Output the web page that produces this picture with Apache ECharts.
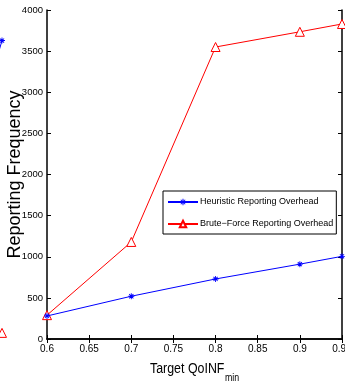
<!DOCTYPE html>
<html>
<head>
<meta charset="utf-8">
<style>html,body{margin:0;padding:0;background:#fff;}#c{width:345px;height:383px;}</style>
<script src="https://cdn.jsdelivr.net/npm/echarts@6/dist/echarts.min.js"></script>
</head>
<body>
<div id="c"></div>
<script>
// ---- data ----
const xValues = [0.6, 0.7, 0.8, 0.9, 0.95];
const heuristic = [280, 520, 730, 910, 1005];
const bruteForce = [290, 1180, 3550, 3735, 3830];
const seriesNames = ['Heuristic Reporting Overhead', 'Brute\u2212Force Reporting Overhead'];
const xTicks = [0.6, 0.65, 0.7, 0.75, 0.8, 0.85, 0.9, 0.95];
const yTicks = [0, 500, 1000, 1500, 2000, 2500, 3000, 3500, 4000];
// clipped neighbour panel on the far left (only its right edge is visible)
const leftPanelX = [0.9, 1.0];
const leftPanelBlue = [5.6, 6.35];
const leftPanelRed = [null, 0.13];

const FONT = '"Liberation Sans", Arial, sans-serif';
const STAR = 'path://M8.5 0 H11.5 V20 H8.5 Z M0 8.5 H20 V11.5 H0 Z M2 4.1 L4.1 2 L18 15.9 L15.9 18 Z M15.9 2 L18 4.1 L4.1 18 L2 15.9 Z';

const axisLine = {show: true, lineStyle: {color: '#000', width: 1.5}};
const tick = {show: true, inside: true, length: 4, lineStyle: {color: '#000', width: 1}};

const chart = echarts.init(document.getElementById('c'), null, {renderer: 'canvas'});
const pair = (xs, ys) => xs.map((x, i) => [x, ys[i]]);

chart.setOption({
  animation: false,
  backgroundColor: '#fff',
  grid: [
    {left: 47, right: 3, top: 10, bottom: 44, containLabel: false, outerBoundsMode: 'none'},
    {left: -100, right: 343, top: 10, bottom: 44, containLabel: false, outerBoundsMode: 'none'}
  ],
  xAxis: [
    {type: 'value', gridIndex: 0, position: 'bottom', min: xTicks[0], max: xTicks[xTicks.length - 1], interval: 0.05,
     axisLine: axisLine, axisTick: tick, splitLine: {show: false},
     axisLabel: {color: '#000', fontFamily: FONT, fontSize: 10, margin: 5,
       formatter: v => String(+v.toFixed(2)), showMaxLabel: true, showMinLabel: true, hideOverlap: false}},
    {type: 'value', gridIndex: 0, position: 'top', min: xTicks[0], max: xTicks[xTicks.length - 1], interval: 0.05,
     axisLine: axisLine, axisTick: tick, splitLine: {show: false}, axisLabel: {show: false}},
    {type: 'value', gridIndex: 1, min: 0, max: 1, show: false}
  ],
  yAxis: [
    {type: 'value', gridIndex: 0, position: 'left', min: yTicks[0], max: yTicks[yTicks.length - 1], interval: 500,
     axisLine: axisLine, axisTick: tick, splitLine: {show: false},
     axisLabel: {color: '#000', fontFamily: FONT, fontSize: 9.5, margin: 4, formatter: v => String(v)},
     name: 'Reporting Frequency', nameLocation: 'middle', nameGap: 23, nameMoveOverlap: false,
     nameTextStyle: {color: '#000', fontFamily: FONT, fontSize: 18}},
    {type: 'value', gridIndex: 0, position: 'right', min: yTicks[0], max: yTicks[yTicks.length - 1], interval: 500,
     axisLine: axisLine, axisTick: tick, splitLine: {show: false}, axisLabel: {show: false}},
    {type: 'value', gridIndex: 1, position: 'right', min: 0, max: 7, interval: 1,
     axisLine: axisLine, axisTick: tick, splitLine: {show: false}, axisLabel: {show: false}}
  ],
  legend: {
    orient: 'vertical', left: 163, top: 191,
    backgroundColor: '#fff', borderColor: '#000', borderWidth: 1,
    padding: [5, 3, 4, 4], itemGap: 10, itemWidth: 30, itemHeight: 8,
    textStyle: {color: '#000', fontFamily: FONT, fontSize: 9, lineHeight: 12, padding: [0, 0, 0, -3]},
    data: seriesNames
  },
  series: [
    {name: seriesNames[0], type: 'line', xAxisIndex: 0, yAxisIndex: 0,
     data: pair(xValues, heuristic), color: '#0000ff',
     lineStyle: {color: '#0000ff', width: 1}, symbol: STAR, symbolSize: 6,
     itemStyle: {color: '#0000ff'}, z: 3},
    {name: seriesNames[1], type: 'line', xAxisIndex: 0, yAxisIndex: 0,
     data: pair(xValues, bruteForce), color: '#ff0000',
     lineStyle: {color: '#ff0000', width: 1}, symbol: 'triangle', symbolSize: 9,
     itemStyle: {color: '#fff', borderColor: '#ff0000', borderWidth: 1}, z: 2},
    {type: 'line', xAxisIndex: 2, yAxisIndex: 2, data: pair(leftPanelX, leftPanelBlue),
     lineStyle: {color: '#0000ff', width: 1}, symbol: STAR, symbolSize: 6,
     itemStyle: {color: '#0000ff'}, z: 3},
    {type: 'line', xAxisIndex: 2, yAxisIndex: 2, data: pair(leftPanelX, leftPanelRed),
     lineStyle: {color: '#ff0000', width: 1}, symbol: 'triangle', symbolSize: 9,
     itemStyle: {color: '#fff', borderColor: '#ff0000', borderWidth: 1}, z: 2}
  ],
  graphic: [
    {type: 'text', x: 150, y: 369, scaleX: 0.8,
     style: {text: 'Target QoINF', fontFamily: FONT, fontSize: 15.5, fill: '#000', verticalAlign: 'middle'}},
    {type: 'text', x: 225, y: 378, scaleX: 0.8,
     style: {text: 'min', fontFamily: FONT, fontSize: 11, fill: '#000', verticalAlign: 'middle'}}
  ]
});
</script>
</body>
</html>
